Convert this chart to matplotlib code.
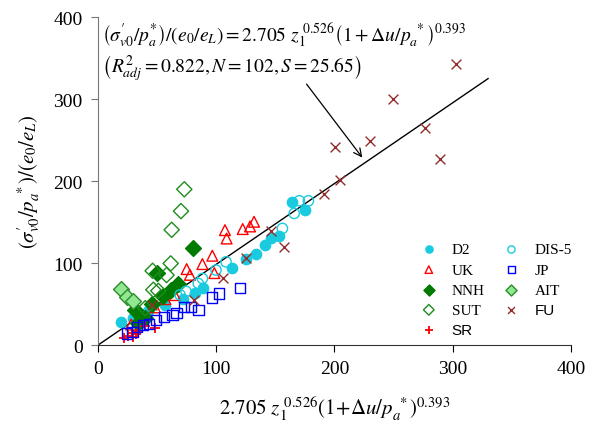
import matplotlib
matplotlib.use('Agg')
import matplotlib.pyplot as plt

plt.rcParams['font.family'] = ['Liberation Serif', 'DejaVu Serif']
plt.rcParams['mathtext.fontset'] = 'stix'

d2_x = [19.5, 29.3, 42.5, 56.7, 71.6, 82, 89, 113, 125.2, 133.7, 141, 146.4, 153.4, 164.3, 175.4]
d2_y = [28.5, 33, 42, 48.8, 56, 63.4, 69.5, 94, 105, 110.6, 122, 130.5, 133.3, 174, 164.6]

dis_x = [69.4, 74.5, 84.8, 88.3, 99.8, 108.3, 156, 166, 170.3, 178]
dis_y = [61.3, 65.5, 75.2, 81.3, 91.5, 101.6, 142.3, 160.6, 176, 176]

uk_x = [28, 37, 48.2, 57, 65.1, 75, 77.8, 88.3, 96.7, 98.4, 107.4, 108.8, 122.4, 128.6, 132]
uk_y = [25, 35.7, 46, 56, 61, 92.7, 85.7, 98.8, 109, 87.8, 140.2, 130, 141.5, 144.7, 150.4]

jp_x = [24.8, 29.3, 32.7, 38.3, 43.4, 49, 55.8, 63.1, 66.5, 73, 78.7, 84.9, 96.2, 102.6, 120.1]
jp_y = [14.3, 16, 22.3, 24.4, 25.6, 30.5, 34.5, 37, 39, 46.7, 46.7, 42.7, 58.2, 63, 69.5]

nnh_x = [31.3, 33.5, 37, 40, 46, 49.6, 55.3, 61.8, 67.9, 80.6]
nnh_y = [42.7, 26.5, 30.5, 33, 50, 88, 60.2, 67.5, 74.4, 118.3]

ait_x = [19.5, 24.3, 29.3]
ait_y = [69, 58.2, 54]

sut_x = [40, 46.2, 46.8, 51, 58, 61.5, 62.3, 70.2, 73]
sut_y = [45, 90.6, 67.5, 66.2, 85.4, 99.6, 140.6, 163.4, 190]

fu_x = [45.7, 81.5, 106, 125, 146.4, 157.6, 191.5, 200.5, 204.7, 230, 249.3, 277, 289, 303]
fu_y = [48.8, 55, 81.7, 106, 139.4, 120, 184, 241.8, 201, 249, 300, 264.6, 226.8, 342.7]

sr_x = [22, 25.6, 29, 30, 31.9, 34, 39.8, 48.5]
sr_y = [8.5, 11.4, 14.3, 10, 13.4, 17, 22.8, 20.5]

fit_x = [0, 330]
fit_y = [0, 325]

fig = plt.figure(figsize=(5.94, 4.31), dpi=100)
ax = fig.add_axes([0.165, 0.197, 0.796, 0.761])

cyan = '#1ACBDF'
ax.plot(fit_x, fit_y, color='black', lw=1.0, zorder=1)

ax.scatter(d2_x, d2_y, s=55, c=cyan, marker='o', label='D2', zorder=3)
ax.scatter(uk_x, uk_y, s=60, facecolors='none', edgecolors='red', marker='^', linewidths=1.0, label='UK', zorder=3)
ax.scatter(nnh_x, nnh_y, s=65, c='#007A00', marker='D', label='NNH', zorder=3)
ax.scatter(sut_x, sut_y, s=60, facecolors='none', edgecolors='#1E8C1E', marker='D', linewidths=1.0, label='SUT', zorder=3)
ax.scatter(sr_x, sr_y, s=60, c='red', marker='+', linewidths=1.3, label='SR', zorder=3)
ax.scatter(dis_x, dis_y, s=55, facecolors='none', edgecolors=cyan, marker='o', linewidths=1.0, label='DIS-5', zorder=3)
ax.scatter(jp_x, jp_y, s=55, facecolors='none', edgecolors='blue', marker='s', linewidths=1.0, label='JP', zorder=3)
ax.scatter(ait_x, ait_y, s=65, facecolors='#90E890', edgecolors='#2E8B2E', marker='D', linewidths=1.0, label='AIT', zorder=3)
ax.scatter(fu_x, fu_y, s=50, c='#952C2C', marker='x', linewidths=1.0, label='FU', zorder=3)

ax.set_xlim(0, 400)
ax.set_ylim(0, 400)
ax.set_xticks([0, 100, 200, 300, 400])
ax.set_yticks([0, 100, 200, 300, 400])
ax.tick_params(direction='out', length=5, labelsize=14, pad=6)
ax.tick_params(axis='y', colors='#777777', labelcolor='black')
ax.spines['top'].set_visible(False)
ax.spines['right'].set_visible(False)
ax.spines['left'].set_color('#777777')
ax.spines['bottom'].set_color('#333333')

ax.set_xlabel(r"$2.705\ z_1^{\ 0.526}(1\!+\!\Delta u/p_a^{\ *})^{0.393}$", fontsize=15, labelpad=12)
ax.set_ylabel(r"$(\sigma^{\prime}_{v0}/p_a^{\ *})/(e_0/e_L)$", fontsize=15, labelpad=8)

ax.text(3, 396, r"$\left(\sigma^{\prime}_{v0}/p_a^{*}\right)/\left(e_0/e_L\right) = 2.705\ z_1^{\ 0.526}\left(1+\Delta u/p_a^{\ *}\right)^{0.393}$",
        fontsize=14, va='top', ha='left')
ax.text(3, 357, r"$\left(R_{adj}^2 = 0.822, N = 102, S = 25.65\right)$",
        fontsize=14, va='top', ha='left')

ax.annotate('', xy=(225, 226), xytext=(175, 321),
            arrowprops=dict(arrowstyle='->', color='black', lw=0.9, mutation_scale=14))

leg = ax.legend(ncol=2, loc='lower right', bbox_to_anchor=(1.031, -0.018), frameon=False,
                fontsize=11, markerscale=0.7, handlelength=1.2, handletextpad=0.9,
                columnspacing=1.15, labelspacing=0.42, scatterpoints=1)
for t in leg.get_texts():
    if t.get_text() in ('FU', 'SR'):
        t.set_family('Liberation Sans')

fig.savefig('out.png', dpi=100)
